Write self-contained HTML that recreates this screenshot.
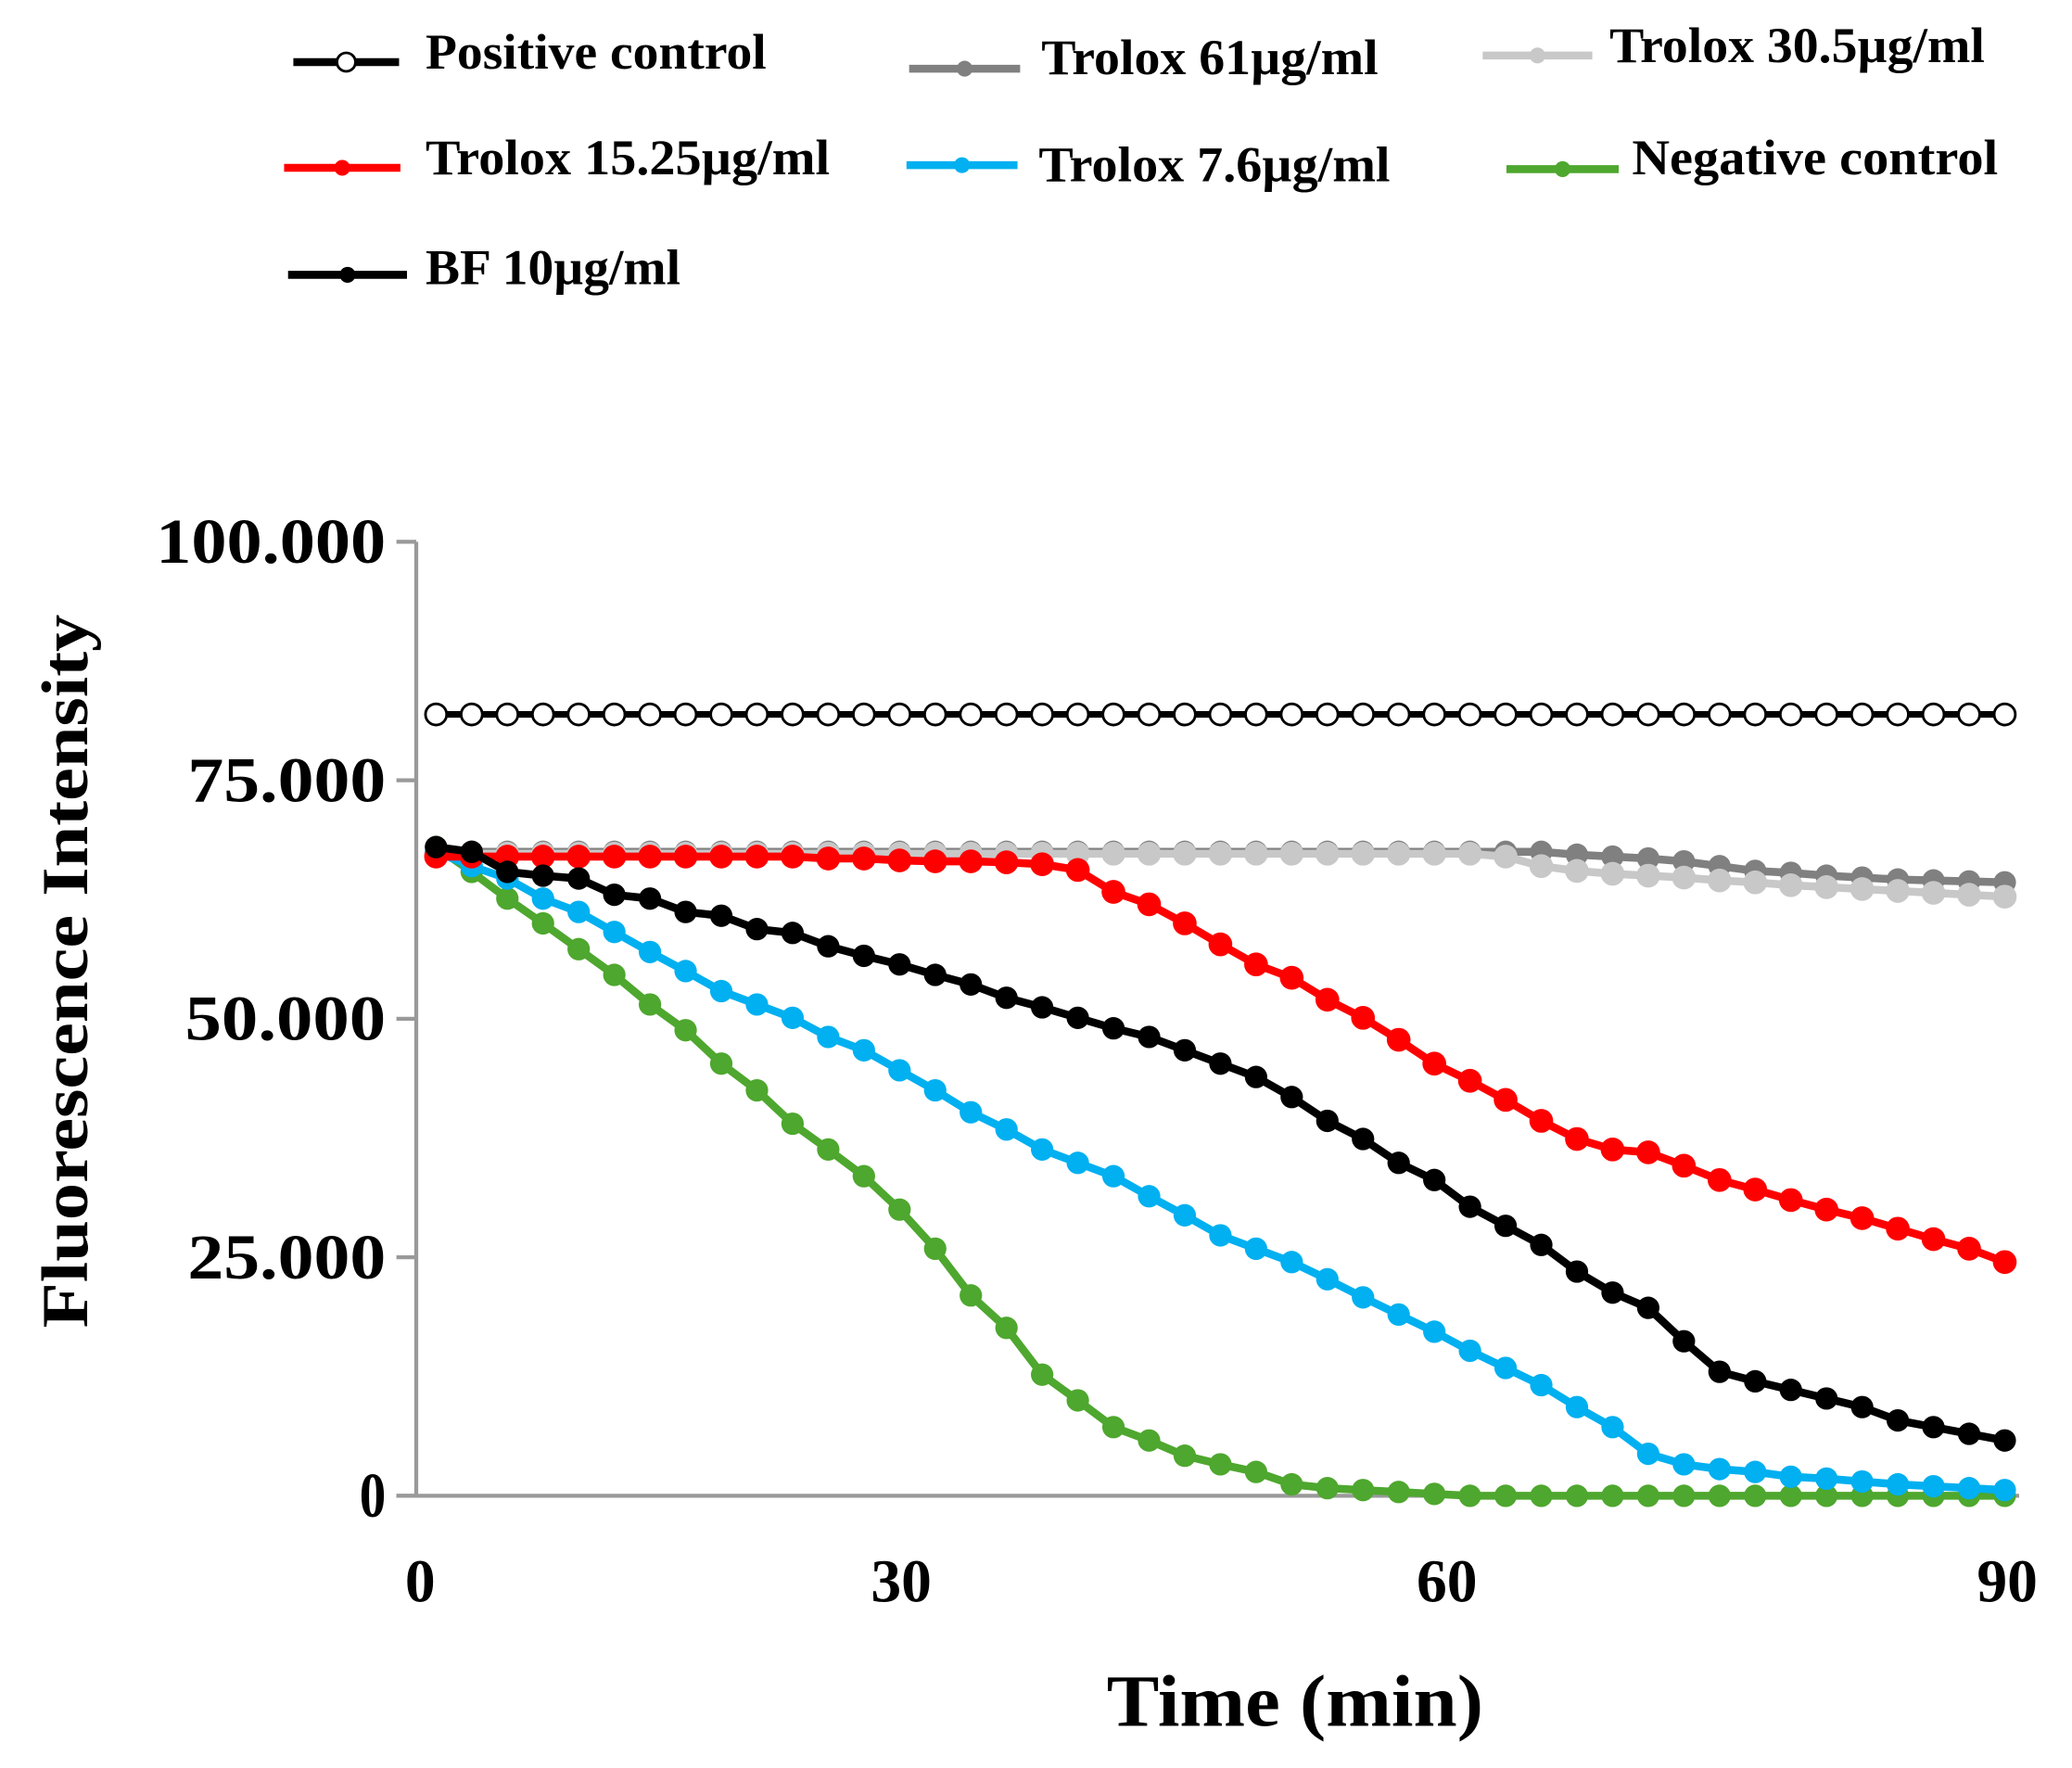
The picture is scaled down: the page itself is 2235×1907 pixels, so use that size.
<!DOCTYPE html>
<html><head><meta charset="utf-8"><style>
html,body{margin:0;padding:0;background:#fff;}
svg{display:block;}
text{font-family:"Liberation Serif",serif;font-weight:bold;fill:#000;}
</style></head><body>
<svg id="chart" width="2235" height="1907" viewBox="0 0 1568 1338" preserveAspectRatio="none" xmlns="http://www.w3.org/2000/svg">
<g id="legend"></g>
<g id="axes"></g>
<g id="plot"></g>
</svg>
<script>
const times = [1,3,5,7,9,11,13,15,17,19,21,23,25,27,29,31,33,35,37,39,41,43,45,47,49,51,53,55,57,59,61,63,65,67,69,71,73,75,77,79,81,83,85,87,89];
const positiveControl = Array(45).fill(81.9);
const trolox61 = [67.5,67.5,67.5,67.5,67.5,67.5,67.5,67.5,67.5,67.5,67.5,67.5,67.5,67.5,67.5,67.5,67.5,67.5,67.5,67.5,67.5,67.5,67.5,67.5,67.5,67.5,67.5,67.5,67.5,67.5,67.5,67.5,67.2,67,66.8,66.5,66,65.5,65.3,65,64.8,64.6,64.5,64.4,64.3];
const trolox30 = [67.3,67.3,67.3,67.3,67.3,67.3,67.3,67.3,67.3,67.3,67.3,67.3,67.3,67.3,67.3,67.3,67.3,67.3,67.3,67.3,67.3,67.3,67.3,67.3,67.3,67.3,67.3,67.3,67.3,67.3,67,66,65.5,65.2,65,64.8,64.5,64.3,64,63.8,63.6,63.4,63.2,63,62.8];
const trolox15 = [67,67,67,67,67,67,67,67,67,67,67,66.8,66.8,66.6,66.5,66.5,66.4,66.2,65.6,63.3,62,60,57.8,55.7,54.3,52,50.1,47.8,45.3,43.5,41.5,39.3,37.4,36.3,36,34.6,33.1,32.1,31,30,29.1,28,26.9,25.9,24.5];
const trolox7 = [67.5,66,64.7,62.6,61.2,59.1,57,55,52.9,51.5,50.1,48.1,46.7,44.6,42.5,40.2,38.4,36.3,34.9,33.5,31.4,29.4,27.3,25.9,24.5,22.7,20.8,19,17.2,15.2,13.4,11.6,9.3,7.2,4.4,3.3,2.8,2.5,2.0,1.8,1.5,1.2,1.0,0.8,0.6];
const negativeControl = [68,65.4,62.6,60,57.3,54.6,51.5,48.8,45.3,42.5,39,36.3,33.5,30,25.9,21,17.6,12.7,10,7.2,5.8,4.2,3.3,2.5,1.2,0.8,0.6,0.4,0.2,0,0,0,0,0,0,0,0,0,0,0,0,0,0,0,0];
const bf10 = [68,67.5,65.4,65,64.7,63,62.6,61.2,60.8,59.4,59,57.6,56.6,55.7,54.6,53.6,52.2,51.2,50.1,49,48.1,46.7,45.3,43.9,41.8,39.3,37.4,34.9,33.1,30.3,28.3,26.3,23.5,21.3,19.7,16.2,13,12,11.1,10.2,9.3,7.9,7.2,6.5,5.8];
const yTicks = [0,25,50,75,100];
const yTickLabels = ["0","25.000","50.000","75.000","100.000"];
const xTickLabels = ["0","30","60","90"];

const NS="http://www.w3.org/2000/svg";
function mk(tag,attrs,parent){const e=document.createElementNS(NS,tag);for(const k in attrs)e.setAttribute(k,attrs[k]);parent.appendChild(e);return e;}
const xS=t=>316.5+t*13.49;
const yS=v=>1132-v*7.22;
const axes=document.getElementById('axes'), plot=document.getElementById('plot'), legend=document.getElementById('legend');

let ya=mk('line',{x1:315,y1:410,x2:315,y2:1133,stroke:'#999','stroke-width':3},axes);


let xa=mk('line',{x1:300,y1:1132,x2:1528,y2:1132,stroke:'#999','stroke-width':3},axes);


const yLabW=[20,150,152,150,174];
yTicks.forEach((v,i)=>{
  const tk=mk('line',{x1:300,y1:yS(v),x2:315,y2:yS(v),stroke:'#999','stroke-width':3},axes);
  
  
  const t=mk('text',{x:292,y:yS(v)+16,'text-anchor':'end','font-size':48,textLength:yLabW[i],lengthAdjust:'spacingAndGlyphs'},axes);
  t.textContent=yTickLabels[i];
  
  
});
const xLabPos=[318,682,1095,1519];
xTickLabels.forEach((s,i)=>{
  const t=mk('text',{x:xLabPos[i],y:1212,'text-anchor':'middle','font-size':46},axes);
  t.textContent=s;
  
  
});
let xt=mk('text',{x:980,y:1306,'text-anchor':'middle','font-size':56,textLength:285,lengthAdjust:'spacingAndGlyphs'},axes);
xt.textContent='Time (min)';


let yt=mk('text',{x:0,y:0,'text-anchor':'middle','font-size':50,transform:'translate(66,735) rotate(-90)',textLength:540,lengthAdjust:'spacingAndGlyphs'},axes);
yt.textContent='Fluorescence Intensity';



const series=[
 {name:'positive-control',data:positiveControl,color:'#000',fill:'#fff',r:8,lw:5},
 {name:'trolox-61',data:trolox61,color:'#808080',fill:'#808080',r:8.5,lw:6},
 {name:'trolox-30-5',data:trolox30,color:'#c8c8c8',fill:'#c8c8c8',r:9,lw:6},
 {name:'negative-control',data:negativeControl,color:'#4ea72e',fill:'#4ea72e',r:8.5,lw:6},
 {name:'trolox-7-6',data:trolox7,color:'#00b0f0',fill:'#00b0f0',r:8.5,lw:6},
 {name:'trolox-15-25',data:trolox15,color:'#ff0000',fill:'#ff0000',r:9,lw:6},
 {name:'bf-10',data:bf10,color:'#000',fill:'#000',r:8.5,lw:6}
];
series.forEach(s=>{
  const g=mk('g',{},plot);
  
  
  const pts=s.data.map((v,i)=>xS(times[i])+','+yS(v)).join(' ');
  const pl=mk('polyline',{points:pts,fill:'none',stroke:s.color,'stroke-width':s.lw},g);
  
  
  s.data.forEach((v,i)=>{
    const c=mk('circle',{cx:xS(times[i]),cy:yS(v),r:s.r,fill:s.fill,stroke:s.color,'stroke-width':s.name==='positive-control'?2:0},g);
    
    
  });
});

const leg=[
 {label:'Positive control',x1:222,x2:302,tx:322,ty:52,tw:258,color:'#000',fill:'#fff',open:true},
 {label:'Trolox 61µg/ml',x1:688,x2:772,tx:788,ty:56,tw:255,color:'#808080',fill:'#808080'},
 {label:'Trolox 30.5µg/ml',x1:1122,x2:1205,tx:1218,ty:47,tw:284,color:'#c8c8c8',fill:'#c8c8c8'},
 {label:'Trolox 15.25µg/ml',x1:215,x2:303,tx:322,ty:132,tw:306,color:'#ff0000',fill:'#ff0000'},
 {label:'Trolox 7.6µg/ml',x1:686,x2:770,tx:786,ty:137,tw:266,color:'#00b0f0',fill:'#00b0f0'},
 {label:'Negative control',x1:1140,x2:1225,tx:1235,ty:132,tw:277,color:'#4ea72e',fill:'#4ea72e'},
 {label:'BF 10µg/ml',x1:218,x2:308,tx:322,ty:215,tw:193,color:'#000',fill:'#000'}
];
const legY=[47,52,42,127,125,128,208];
leg.forEach((l,i)=>{
  const g=mk('g',{},legend);
  
  
  const y=legY[i];
  mk('line',{x1:l.x1,y1:y,x2:l.x2,y2:y,stroke:l.color,'stroke-width':6},g);
  mk('circle',{cx:(l.x1+l.x2)/2,cy:y,r:l.open?7:6,fill:l.fill,stroke:l.color,'stroke-width':l.open?2:0},g);
  const t=mk('text',{x:l.tx,y:l.ty,'font-size':38,textLength:l.tw,lengthAdjust:'spacingAndGlyphs'},g);
  t.textContent=l.label;
  
  
});
</script>
</body></html>
